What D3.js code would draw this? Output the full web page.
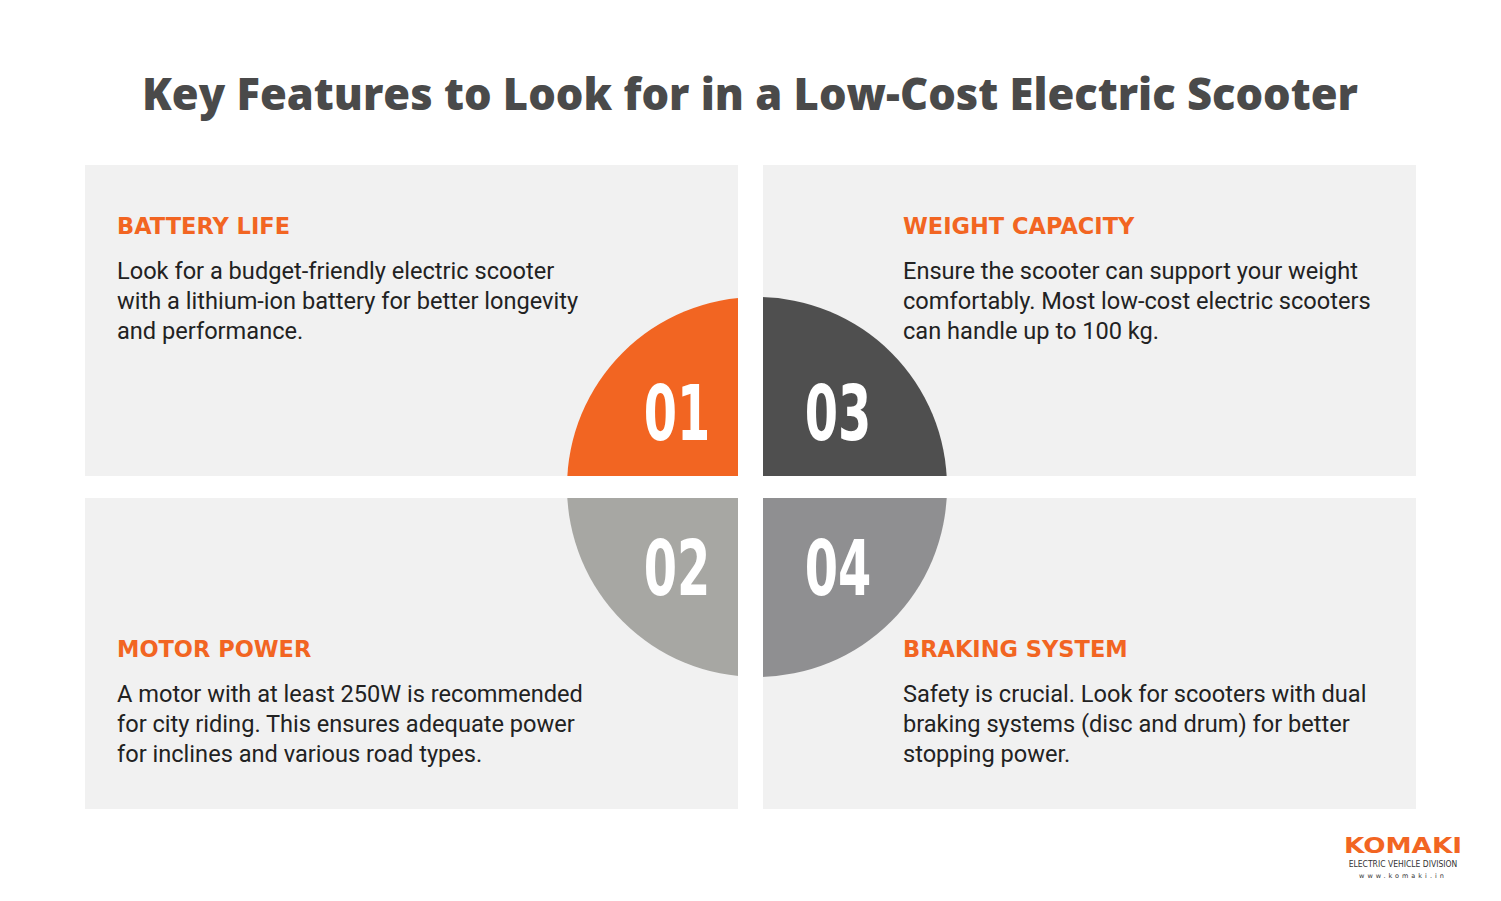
<!DOCTYPE html>
<html><head><meta charset="utf-8">
<script src="https://cdn.jsdelivr.net/npm/d3@7"></script>
<style>body{margin:0;background:#fff}</style></head>
<body><svg id="chart"></svg>
<script>
// content
const titles = ["BATTERY LIFE", "MOTOR POWER", "WEIGHT CAPACITY", "BRAKING SYSTEM"];
const numbers = ["01", "02", "03", "04"];
const bodies = [
  ["Look for a budget-friendly electric scooter", "with a lithium-ion battery for better longevity", "and performance."],
  ["A motor with at least 250W is recommended", "for city riding. This ensures adequate power", "for inclines and various road types."],
  ["Ensure the scooter can support your weight", "comfortably. Most low-cost electric scooters", "can handle up to 100 kg."],
  ["Safety is crucial. Look for scooters with dual", "braking systems (disc and drum) for better", "stopping power."]
];
const colors = ["#f26522", "#a7a7a3", "#4f4f4f", "#8f8f91"];
// col, row per item
const cells = [[0, 0], [0, 1], [1, 0], [1, 1]];

const svg = d3.select('#chart').attr('width', 1501).attr('height', 901);

svg.append('text').attr('x', 750).attr('y', 110).attr('text-anchor', 'middle')
  .attr('font-family', 'Open Sans').attr('font-weight', 800).attr('font-size', 44)
  .attr('textLength', 1216).attr('lengthAdjust', 'spacingAndGlyphs')
  .attr('fill', '#4a4a4a').text('Key Features to Look for in a Low-Cost Electric Scooter');

const colX = [85, 763], rowY = [165, 498], panelW = 653, panelH = 311;
cells.forEach(([c, r]) => {
  svg.append('rect').attr('x', colX[c]).attr('y', rowY[r]).attr('width', panelW).attr('height', panelH).attr('fill', '#f1f1f1');
});

// quadrant circle
const cx = 757, cy = 487, rad = 190;
const arc = d3.arc().innerRadius(0).outerRadius(rad);
const angles = [[-Math.PI / 2, 0], [Math.PI, 1.5 * Math.PI], [0, Math.PI / 2], [Math.PI / 2, Math.PI]];
const g = svg.append('g').attr('transform', `translate(${cx},${cy})`);
angles.forEach((a, i) => {
  g.append('path').attr('d', arc({startAngle: a[0], endAngle: a[1]})).attr('fill', colors[i]);
});
// gaps
svg.append('rect').attr('x', 738).attr('y', 280).attr('width', 25).attr('height', 420).attr('fill', '#fff');
svg.append('rect').attr('x', 540).attr('y', 476).attr('width', 440).attr('height', 22).attr('fill', '#fff');

const numPos = [[677, 440], [677, 595], [838, 440], [838, 595]];
numbers.forEach((n, i) => {
  svg.append('text').attr('transform', `translate(${numPos[i][0]},${numPos[i][1]}) scale(0.7,1)`)
    .attr('text-anchor', 'middle').attr('font-family', 'DejaVu Sans Condensed').attr('font-weight', 'bold')
    .attr('font-size', 76).attr('fill', '#fff').text(n);
});

const textX = [117, 903], headY = [234, 657];
cells.forEach(([c, r], i) => {
  svg.append('text').attr('x', textX[c]).attr('y', headY[r])
    .attr('font-family', 'DejaVu Sans').attr('font-weight', 'bold').attr('font-size', 22.5)
    .attr('fill', '#f26522').text(titles[i]);
  bodies[i].forEach((l, k) => {
    svg.append('text').attr('x', textX[c]).attr('y', headY[r] + 45 + k * 30)
      .attr('font-family', 'Roboto').attr('font-size', 23.6).attr('fill', '#222').text(l);
  });
});

// logo
svg.append('text').attr('x', 1403).attr('y', 853).attr('text-anchor', 'middle')
  .attr('font-family', 'DejaVu Sans').attr('font-weight', 'bold').attr('font-size', 22)
  .attr('textLength', 118).attr('lengthAdjust', 'spacingAndGlyphs')
  .attr('fill', '#f26522').text('KOMAKI');
svg.append('text').attr('x', 1403).attr('y', 867).attr('text-anchor', 'middle')
  .attr('font-family', 'DejaVu Sans Condensed').attr('font-size', 8.5).attr('fill', '#333').text('ELECTRIC VEHICLE DIVISION');
svg.append('text').attr('x', 1403).attr('y', 878).attr('text-anchor', 'middle')
  .attr('font-family', 'DejaVu Sans').attr('font-size', 6.5).attr('letter-spacing', 3).attr('fill', '#333').text('www.komaki.in');
</script></body></html>
